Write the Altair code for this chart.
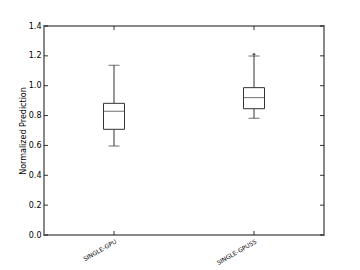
import altair as alt
import pandas as pd

categories = ["SINGLE-GPU", "SINGLE-GPUSS"]
whisker_lo = [0.596, 0.782]
q1 = [0.708, 0.846]
median = [0.829, 0.92]
q3 = [0.882, 0.987]
whisker_hi = [1.137, 1.199]
outlier_cat = ["SINGLE-GPUSS"]
outlier_val = [1.21]
y_ticks = [0.0, 0.2, 0.4, 0.6, 0.8, 1.0, 1.2, 1.4]

df = pd.DataFrame({"cat": categories, "lo": whisker_lo, "q1": q1, "med": median,
                   "q3": q3, "hi": whisker_hi})
out = pd.DataFrame({"cat": outlier_cat, "v": outlier_val})
ticks = pd.DataFrame({"v": y_ticks})

W, H = 280, 209
line = "#333333"
font = "DejaVu Sans"

xs = alt.X("cat:N", scale=alt.Scale(type="point", padding=0.5, domain=categories),
           axis=alt.Axis(title=None, labelAngle=-30, labelAlign="right", labelBaseline="top",
                         labelFontSize=6, labelFont=font, labelColor="black",
                         ticks=False, domain=False, labelPadding=3))
yscale = alt.Scale(domain=[0, 1.4], nice=False)
yaxis = alt.Axis(title="Normalized Prediction", values=y_ticks, format=".1f",
                 labelFontSize=8, labelFont=font, labelColor="black", labelOverlap=False,
                 labelBound=False, titleFontSize=8, titleFont=font, titleFontWeight="normal",
                 titleColor="black", ticks=False, domain=False, grid=False,
                 labelPadding=3, titlePadding=1)

base = alt.Chart(df)

whisk_low = base.mark_rule(color=line, strokeWidth=1).encode(
    x=xs, y=alt.Y("lo:Q", scale=yscale, axis=yaxis), y2="q1:Q")
whisk_high = base.mark_rule(color=line, strokeWidth=1).encode(
    x=xs, y=alt.Y("q3:Q", axis=yaxis), y2="hi:Q")
box = base.mark_bar(size=21, fill="white", stroke=line, strokeWidth=1).encode(
    x=xs, y=alt.Y("q1:Q", axis=yaxis), y2="q3:Q")
med = base.mark_tick(size=21, thickness=1, color=line).encode(
    x=xs, y=alt.Y("med:Q", axis=yaxis))
cap_lo = base.mark_tick(size=11, thickness=1, color=line).encode(
    x=xs, y=alt.Y("lo:Q", axis=yaxis))
cap_hi = base.mark_tick(size=11, thickness=1, color=line).encode(
    x=xs, y=alt.Y("hi:Q", axis=yaxis))
fl = alt.Chart(out).mark_point(shape="cross", size=8, filled=True, color="black").encode(
    x=xs, y=alt.Y("v:Q", axis=yaxis))

tk = alt.Chart(ticks)
ytl = tk.mark_rule(color="black", strokeWidth=0.8).encode(
    y=alt.Y("v:Q", axis=yaxis), x=alt.value(0), x2=alt.value(4))
ytr = tk.mark_rule(color="black", strokeWidth=0.8).encode(
    y=alt.Y("v:Q", axis=yaxis), x=alt.value(W - 4), x2=alt.value(W))
xcat = alt.Chart(pd.DataFrame({"cat": categories}))
xtb = xcat.mark_rule(color="black", strokeWidth=0.8).encode(
    x=xs, y=alt.value(H - 4), y2=alt.value(H))
xtt = xcat.mark_rule(color="black", strokeWidth=0.8).encode(
    x=xs, y=alt.value(0), y2=alt.value(4))

chart = alt.layer(whisk_low, whisk_high, box, med, cap_lo, cap_hi, fl,
                  ytl, ytr, xtb, xtt).properties(
    width=W, height=H,
    autosize=alt.AutoSizeParams(type="none"),
    padding={"left": 36, "top": 18, "right": 20, "bottom": 30},
).configure(
    background="white",
    view=alt.ViewConfig(stroke="#888888", strokeWidth=2),
    axis=alt.AxisConfig(labelOverlap=False),
)

chart.save("out.html", embed_options={"renderer": "svg", "actions": False})
